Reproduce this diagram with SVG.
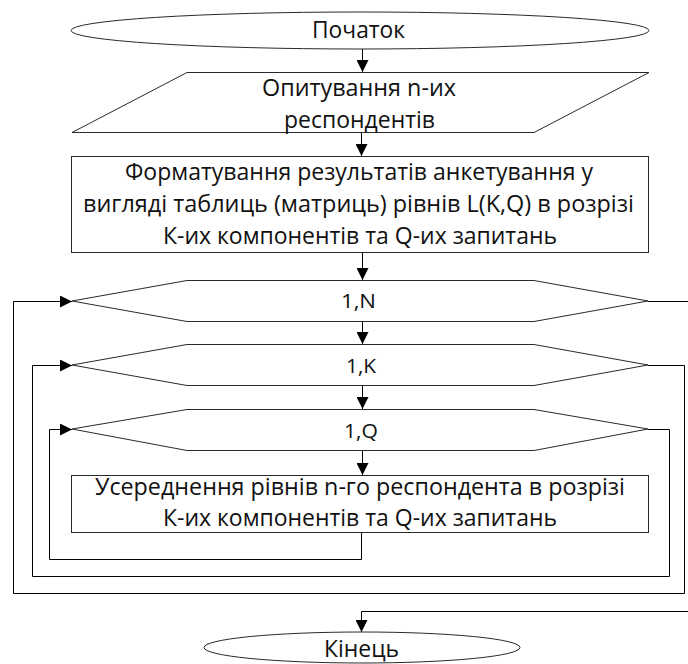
<svg xmlns="http://www.w3.org/2000/svg" width="688" height="664" viewBox="0 0 688 664">
  <style>
    .shape { fill: #fff; stroke: #2a2a2a; stroke-width: 1; }
    .conn { fill: none; stroke: #000; stroke-width: 1; }
    .t { font-family: "Open Sans", "Noto Sans", sans-serif; font-size: 23.5px; fill: #111; text-anchor: middle; }
    .s { font-family: "Open Sans", "Noto Sans", sans-serif; font-size: 19.5px; fill: #111; text-anchor: middle; }
  </style>
  <defs>
    <marker id="arrow" markerUnits="userSpaceOnUse" markerWidth="12" markerHeight="12" refX="12" refY="6" orient="auto">
      <path d="M0,0 L12,6 L0,12 z" fill="#000"/>
    </marker>
  </defs>

  <rect width="688" height="664" fill="#fff"/>

  <!-- connectors -->
  <g id="connectors" class="conn">
    <path d="M362.5,49 V72" marker-end="url(#arrow)"/>
    <path d="M361.5,132 V156" marker-end="url(#arrow)"/>
    <path d="M362.5,253 V280" marker-end="url(#arrow)"/>
    <path d="M362.5,321 V344" marker-end="url(#arrow)"/>
    <path d="M362.5,385 V409" marker-end="url(#arrow)"/>
    <path d="M362.5,450 V475" marker-end="url(#arrow)"/>
    <!-- inner loop return (Q) -->
    <path d="M361.5,532 V559.5 H49.5 V429.5 H72" marker-end="url(#arrow)"/>
    <!-- Q exit, back to K -->
    <path d="M648,429.5 H669.5 V576.5 H32.5 V365.5 H72" marker-end="url(#arrow)"/>
    <!-- K exit, back to N -->
    <path d="M648,365.5 H684.5 V593.5 H13.5 V301.5 H72" marker-end="url(#arrow)"/>
    <!-- N exit -->
    <path d="M648,301.5 H688"/>
    <!-- to end -->
    <path d="M688,611.5 H361.5 V632" marker-end="url(#arrow)"/>
  </g>

  <g id="start">
    <ellipse class="shape" cx="360" cy="30.5" rx="289" ry="18.5"/>
    <text class="t" x="358.5" y="38" textLength="93" lengthAdjust="spacingAndGlyphs">Початок</text>
  </g>

  <g id="input">
    <polygon class="shape" points="187,72.5 649,72.5 534,132.5 72,132.5"/>
    <text class="t" x="359" y="96" textLength="194" lengthAdjust="spacingAndGlyphs">Опитування n-их</text>
    <text class="t" x="359.5" y="128" textLength="151" lengthAdjust="spacingAndGlyphs">респондентів</text>
  </g>

  <g id="format">
    <rect class="shape" x="71.5" y="156.5" width="577" height="96"/>
    <text class="t" x="359" y="180" textLength="468" lengthAdjust="spacingAndGlyphs">Форматування результатів анкетування у</text>
    <text class="t" x="358.5" y="212" textLength="551" lengthAdjust="spacingAndGlyphs">вигляді таблиць (матриць) рівнів L(K,Q) в розрізі</text>
    <text class="t" x="360" y="244" textLength="394" lengthAdjust="spacingAndGlyphs">К-их компонентів та Q-их запитань</text>
  </g>

  <g id="loopN">
    <polygon class="shape" points="72,301 187,280.5 534,280.5 648,301 534,321.5 187,321.5"/>
    <text class="s" x="358.5" y="308" textLength="35" lengthAdjust="spacingAndGlyphs">1,N</text>
  </g>

  <g id="loopK">
    <polygon class="shape" points="72,365 187,344.5 534,344.5 648,365 534,385.5 187,385.5"/>
    <text class="s" x="361" y="373" textLength="30" lengthAdjust="spacingAndGlyphs">1,K</text>
  </g>

  <g id="loopQ">
    <polygon class="shape" points="72,429 187,409.5 534,409.5 648,429 534,450.5 187,450.5"/>
    <text class="s" x="361" y="438" textLength="34" lengthAdjust="spacingAndGlyphs">1,Q</text>
  </g>

  <g id="average">
    <rect class="shape" x="71.5" y="475.5" width="577" height="57"/>
    <text class="t" x="360" y="495" textLength="530" lengthAdjust="spacingAndGlyphs">Усереднення рівнів n-го респондента в розрізі</text>
    <text class="t" x="360" y="526" textLength="394" lengthAdjust="spacingAndGlyphs">К-их компонентів та Q-их запитань</text>
  </g>

  <g id="end">
    <ellipse class="shape" cx="362" cy="647.5" rx="158" ry="15.5"/>
    <text class="t" x="361.5" y="657" textLength="75" lengthAdjust="spacingAndGlyphs">Кінець</text>
  </g>
</svg>
